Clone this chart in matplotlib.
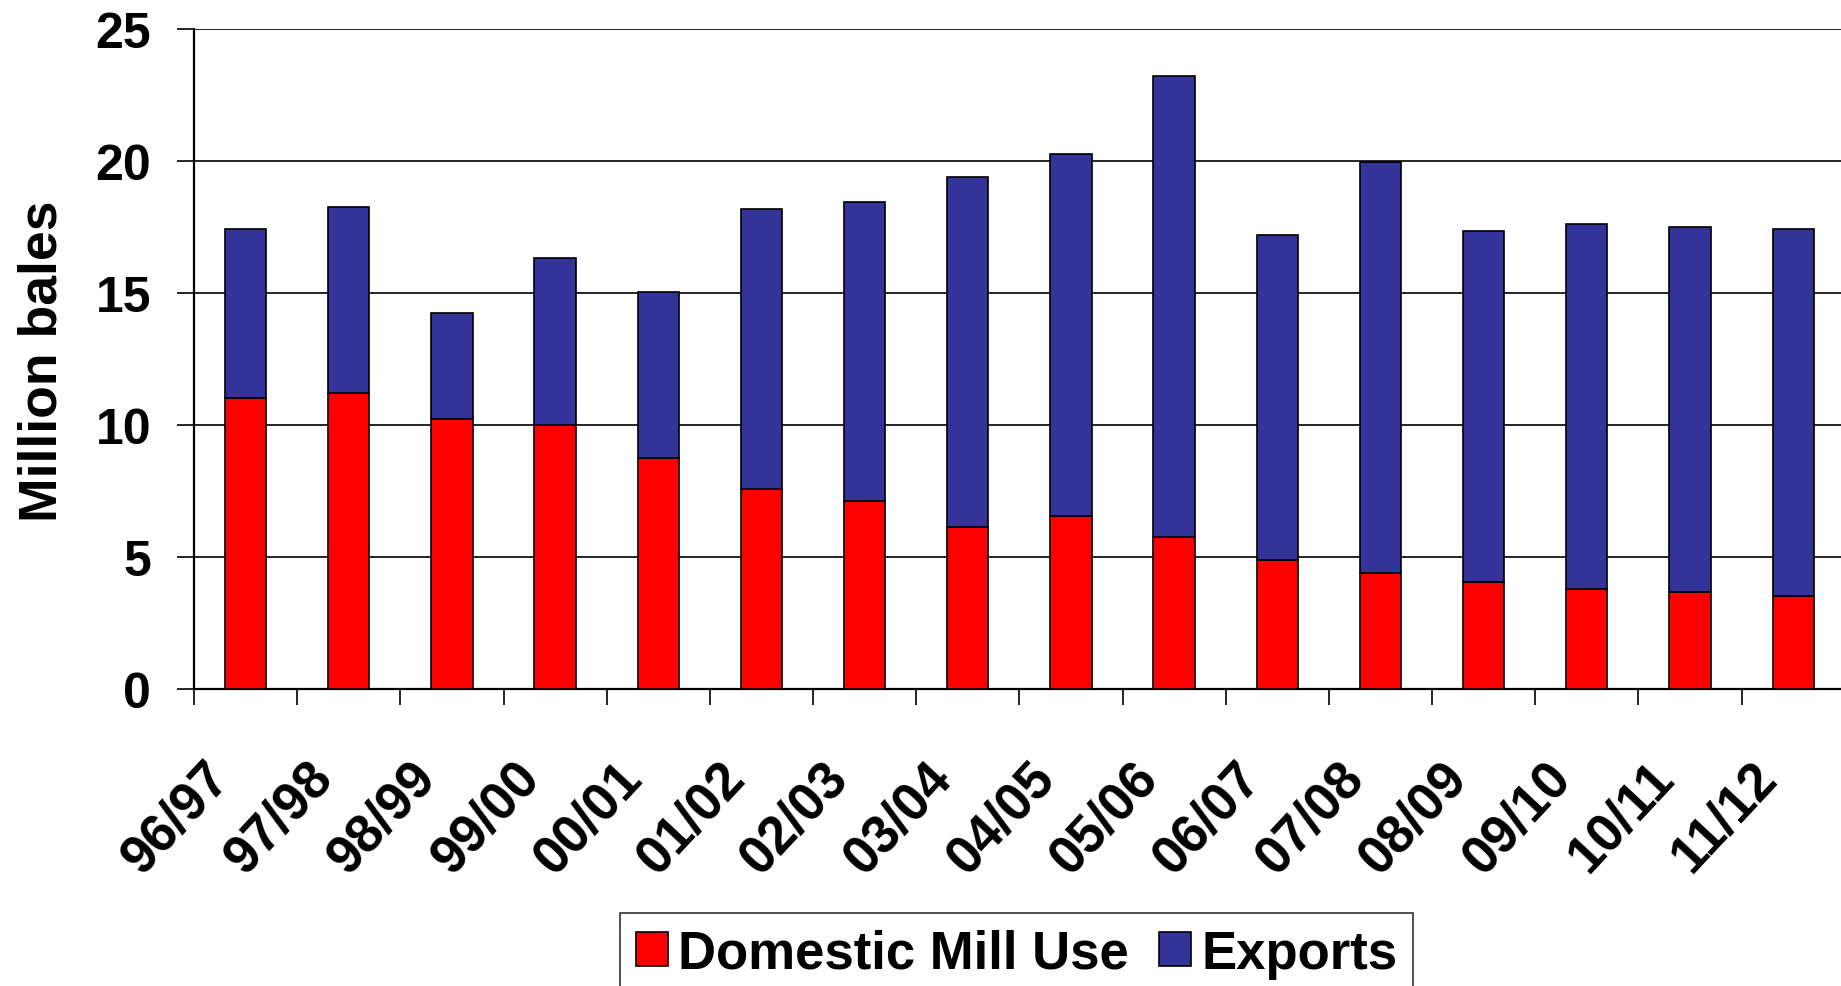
import matplotlib
matplotlib.use("Agg")
import matplotlib.pyplot as plt
import matplotlib.transforms as mtransforms
import numpy as np

plt.rcParams['font.family'] = ['Liberation Sans', 'DejaVu Sans']
plt.rcParams['font.weight'] = 'bold'

seasons = ["96/97", "97/98", "98/99", "99/00", "00/01", "01/02", "02/03", "03/04",
           "04/05", "05/06", "06/07", "07/08", "08/09", "09/10", "10/11", "11/12"]
domestic = [11.02, 11.23, 10.23, 10.01, 8.75, 7.58, 7.11, 6.15,
            6.57, 5.77, 4.88, 4.41, 4.06, 3.78, 3.66, 3.52]
totals = [17.43, 18.25, 14.26, 16.35, 15.03, 18.18, 18.46, 19.40,
          20.26, 23.22, 17.22, 19.98, 17.36, 17.63, 17.50, 17.43]
exports = [t - d for t, d in zip(totals, domestic)]
yticks = [0, 5, 10, 15, 20, 25]

W, H = 1841, 987
fig = plt.figure(figsize=(W / 100, H / 100), dpi=100)
left = 194 / W
bottom = (H - 690) / H
height = (690 - 30.4) / H
width = 16 * 103.17 / W
ax = fig.add_axes([left, bottom, width, height])

x = np.arange(len(seasons))
bw = 0.40
ax.bar(x, domestic, bw, color='#FF0000', edgecolor='black', linewidth=1.2,
       label='Domestic Mill Use', zorder=3)
ax.bar(x, exports, bw, bottom=domestic, color='#333399', edgecolor='black',
       linewidth=1.2, label='Exports', zorder=3)

ax.set_xlim(-0.5, len(seasons) - 0.5)
ax.set_ylim(0, 25)
ax.set_yticks(yticks)
ax.set_yticklabels([str(v) for v in yticks], fontsize=36, fontweight='bold')
ax.yaxis.grid(True, color='black', linewidth=1.2, zorder=0)
ax.set_axisbelow(True)

for s in ['top', 'right']:
    ax.spines[s].set_visible(False)
for s in ['left', 'bottom']:
    ax.spines[s].set_linewidth(1.6)
    ax.spines[s].set_color('black')

ax.tick_params(axis='y', direction='out', length=12, width=1.2, pad=19)
ax.set_xticks(np.arange(len(seasons)) - 0.5)
ax.set_xticklabels([])
ax.tick_params(axis='x', direction='out', length=11.5, width=1.2)

offset = mtransforms.ScaledTranslation(-14 / 100, -90 / 100, fig.dpi_scale_trans)
trans = ax.get_xaxis_transform() + offset
for i, lab in enumerate(seasons):
    ax.text(i, 0, lab, transform=trans, rotation=47, rotation_mode='anchor',
            ha='right', va='baseline', fontsize=38, fontweight='bold', clip_on=False)

fig.text(57 / W, 1 - 361 / H, 'Million bales', rotation=90, rotation_mode='anchor',
         ha='center', va='baseline', fontsize=38.5, fontweight='bold')

leg = fig.legend(loc='upper left', bbox_to_anchor=(620 / W, 1 - 914 / H), ncol=2,
                 prop={'size': 38, 'weight': 'bold'}, frameon=True, fancybox=False,
                 handlelength=0.61, handleheight=0.61, handletextpad=0.19,
                 columnspacing=0.57, borderpad=0.3, borderaxespad=0)
leg.get_frame().set_edgecolor('black')
leg.get_frame().set_linewidth(1.2)

fig.savefig('out.png', dpi=100)
